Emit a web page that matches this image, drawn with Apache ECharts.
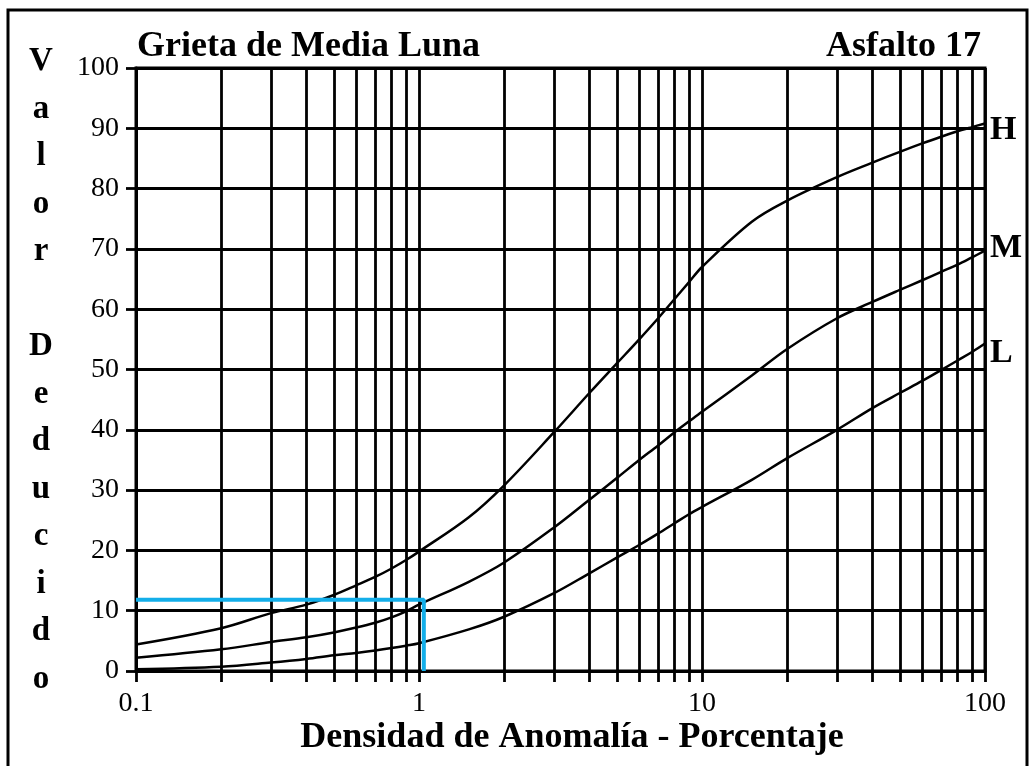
<!DOCTYPE html>
<html>
<head>
<meta charset="utf-8">
<title>Grieta de Media Luna - Asfalto 17</title>
<script src="https://cdn.jsdelivr.net/npm/echarts@6/dist/echarts.min.js"></script>
<style>
  html, body { margin: 0; padding: 0; background: #fff; }
  #chart { width: 1030px; height: 766px; }
</style>
</head>
<body>
<div id="chart"></div>
<script>
// Densidad de anomalía (%) sampled along the three severity curves
const densidad = [0.1, 0.2, 0.3, 0.4, 0.5, 0.6, 0.7, 0.8, 0.9, 1, 1.5, 2, 3, 4, 5, 6, 7, 8, 9, 10, 15, 20, 30, 40, 50, 60, 70, 80, 90, 100];

// Valor deducido for each severity level
const severidadH = [4.4, 7.1, 9.6, 11, 12.6, 14.2, 15.6, 17, 18.4, 19.8, 25.5, 30.8, 39.6, 46.1, 51, 55, 58.5, 61.7, 64.5, 67, 74.5, 78, 81.9, 84.3, 86.1, 87.5, 88.6, 89.5, 90.2, 90.8];
const severidadM = [2.2, 3.6, 4.8, 5.6, 6.4, 7.2, 8.0, 8.9, 9.9, 11, 14.8, 18, 23.8, 28.4, 32, 35, 37.4, 39.6, 41.4, 43, 49, 53.4, 58.5, 61.2, 63.2, 64.8, 66.2, 67.4, 68.6, 69.7];
const severidadL = [0.3, 0.7, 1.4, 2.0, 2.6, 3.0, 3.4, 3.8, 4.2, 4.6, 6.9, 9, 12.9, 16.2, 18.8, 20.9, 22.8, 24.5, 26, 27.2, 31.7, 35.3, 40, 43.6, 46.1, 48.1, 49.9, 51.5, 52.9, 54.3];

// Reading guide: density 1.04 % on the M curve gives about 11.8
const guiaX = [0.1, 1.04, 1.04];
const guiaY = [11.8, 11.8, 0];

const serif = '"Liberation Serif", "Times New Roman", serif';

function pairs(xs, ys) {
  return xs.map((x, i) => [x, ys[i]]);
}

function curve(name, values, dy) {
  return {
    name: name,
    type: 'line',
    data: pairs(densidad, values),
    smooth: 0.35,
    symbol: 'none',
    z: 5,
    lineStyle: { color: '#000', width: 2.5 },
    endLabel: {
      show: true,
      formatter: '{a}',
      color: '#000',
      fontFamily: serif,
      fontWeight: 'bold',
      fontSize: 34,
      distance: 5,
      offset: [0, dy]
    }
  };
}

const chart = echarts.init(document.getElementById('chart'), null, { renderer: 'canvas' });

const gridLine = { color: '#000', width: 2.8 };

chart.setOption({
  animation: false,
  backgroundColor: '#fff',
  grid: {
    left: 136, right: 45, top: 68, bottom: 95,
    show: true, borderColor: '#000', borderWidth: 3,
    containLabel: false
  },
  xAxis: {
    type: 'log',
    logBase: 10,
    min: 0.1,
    max: 100,
    axisLine: { show: true, onZero: false, lineStyle: { color: '#000', width: 3 } },
    axisTick: { show: true, inside: false, length: 11, lineStyle: gridLine },
    minorTick: { show: true, splitNumber: 9, length: 11, lineStyle: gridLine },
    splitLine: { show: true, lineStyle: gridLine },
    minorSplitLine: { show: true, lineStyle: gridLine },
    axisLabel: {
      color: '#000', fontFamily: serif, fontSize: 28, margin: 19,
      formatter: v => String(v)
    }
  },
  yAxis: {
    type: 'value',
    min: 0,
    max: 100,
    interval: 10,
    axisLine: { show: true, lineStyle: { color: '#000', width: 3 } },
    axisTick: { show: true, inside: false, length: 10, lineStyle: gridLine },
    splitLine: { show: true, lineStyle: gridLine },
    axisLabel: { color: '#000', fontFamily: serif, fontSize: 28, margin: 17 }
  },
  series: [
    curve('H', severidadH, 7),
    curve('M', severidadM, -2),
    curve('L', severidadL, 10),
    {
      name: 'guia',
      type: 'line',
      data: pairs(guiaX, guiaY),
      symbol: 'none',
      z: 6,
      lineStyle: { color: '#13aee9', width: 4 }
    }
  ],
  graphic: [
    {
      type: 'rect',
      shape: { x: 8, y: 10, width: 1019, height: 800 },
      style: { fill: 'none', stroke: '#000', lineWidth: 3 },
      silent: true
    },
    {
      type: 'text',
      style: {
        x: 137, y: 47, text: 'Grieta de Media Luna',
        font: 'bold 36px ' + serif, fill: '#000',
        textAlign: 'left', textVerticalAlign: 'middle'
      }
    },
    {
      type: 'text',
      style: {
        x: 981, y: 47, text: 'Asfalto 17',
        font: 'bold 36px ' + serif, fill: '#000',
        textAlign: 'right', textVerticalAlign: 'middle'
      }
    },
    {
      type: 'text',
      style: {
        x: 41, y: 38, text: 'V\na\nl\no\nr\n\nD\ne\nd\nu\nc\ni\nd\no',
        font: 'bold 33px ' + serif, fill: '#000', lineHeight: 47.5,
        textAlign: 'center', textVerticalAlign: 'top'
      }
    },
    {
      type: 'text',
      style: {
        x: 572, y: 738, text: 'Densidad de Anomalía - Porcentaje',
        font: 'bold 36px ' + serif, fill: '#000',
        textAlign: 'center', textVerticalAlign: 'middle'
      }
    }
  ]
});
</script>
</body>
</html>
